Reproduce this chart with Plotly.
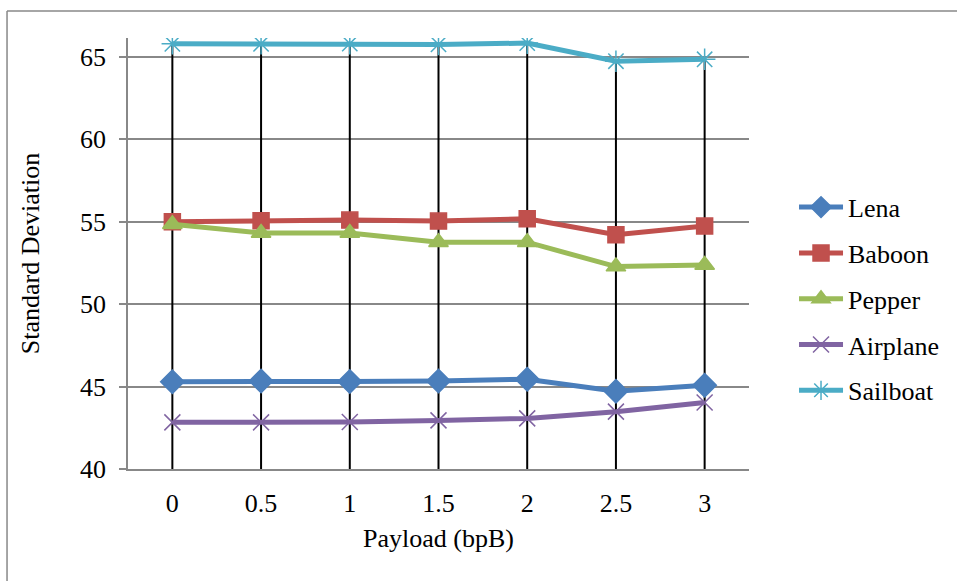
import plotly.graph_objects as go

# Payload categories (bits per byte)
payload = ["0", "0.5", "1", "1.5", "2", "2.5", "3"]

# Standard deviation of each stego image per payload
lena = [45.30, 45.34, 45.31, 45.34, 45.45, 44.72, 45.08]
baboon = [55.00, 55.06, 55.10, 55.04, 55.18, 54.22, 54.74]
pepper = [54.85, 54.32, 54.32, 53.76, 53.76, 52.28, 52.38]
airplane = [42.83, 42.83, 42.85, 42.95, 43.07, 43.48, 44.03]
sailboat = [65.80, 65.80, 65.81, 65.76, 65.84, 64.74, 64.86]

series = [
    ("Lena", lena, "#4A7EBB", "diamond", 18),
    ("Baboon", baboon, "#C0504D", "square", 16),
    ("Pepper", pepper, "#9BBB59", "triangle-up", 17),
    ("Airplane", airplane, "#8064A2", "x-thin-open", 16),
    ("Sailboat", sailboat, "#4BACC6", "asterisk-open", 18),
]

Y_MIN, Y_MAX = 40, 66.15
FONT = "Liberation Serif, Times New Roman, serif"
FS = 26

fig = go.Figure()

# Drop lines from the highest point of each category down to the axis
tops = [max(vals) for vals in zip(lena, baboon, pepper, airplane, sailboat)]
dx, dy = [], []
for cat, top in zip(payload, tops):
    dx += [cat, cat, None]
    dy += [Y_MIN, top, None]
fig.add_trace(go.Scatter(
    x=dx, y=dy, mode="lines", line=dict(color="black", width=2),
    showlegend=False, hoverinfo="skip",
))

for name, vals, color, symbol, size in series:
    fig.add_trace(go.Scatter(
        x=payload, y=vals, name=name, legendgroup=name,
        mode="lines+markers",
        line=dict(color=color, width=5),
        marker=dict(symbol=symbol, size=size, color=color,
                    line=dict(color=color, width=1.5)),
    ))

grid_col = "#888888"
fig.update_xaxes(
    type="category", range=[-0.5, 6.5],
    showline=True, linecolor=grid_col, linewidth=1.5,
    showgrid=False, ticks="", ticklabelstandoff=10,
    tickfont=dict(family=FONT, size=FS, color="black"),
    title=dict(text="Payload (bpB)", standoff=12,
               font=dict(family=FONT, size=FS, color="black")),
)
fig.update_yaxes(
    range=[Y_MIN, Y_MAX], tickvals=[40, 45, 50, 55, 60, 65],
    showline=True, linecolor=grid_col, linewidth=1.5,
    showgrid=True, gridcolor=grid_col, gridwidth=1.5,
    ticks="outside", ticklen=7, tickcolor=grid_col, tickwidth=1.5,
    ticklabelstandoff=8, zeroline=False,
    tickfont=dict(family=FONT, size=FS, color="black"),
    title=dict(text="Standard Deviation", standoff=33,
               font=dict(family=FONT, size=FS, color="black")),
)

# Outer chart frame (top and left edges)
frame = dict(color=grid_col, width=1.5)
fig.add_shape(type="line", xref="paper", yref="paper",
              x0=-0.1948, x1=1.4, y0=1.0626, y1=1.0626, line=frame)
fig.add_shape(type="line", xref="paper", yref="paper",
              x0=-0.1948, x1=-0.1948, y0=1.0626, y1=-0.3, line=frame)

fig.update_layout(
    width=957, height=581,
    margin=dict(l=128, r=208, t=38, b=112),
    plot_bgcolor="white", paper_bgcolor="white",
    font=dict(family=FONT, size=FS, color="black"),
    legend=dict(x=1.0725, y=0.394, xanchor="left", yanchor="middle",
                tracegroupgap=9, font=dict(family=FONT, size=FS),
                itemwidth=44),
)

fig.write_html("out.html")
